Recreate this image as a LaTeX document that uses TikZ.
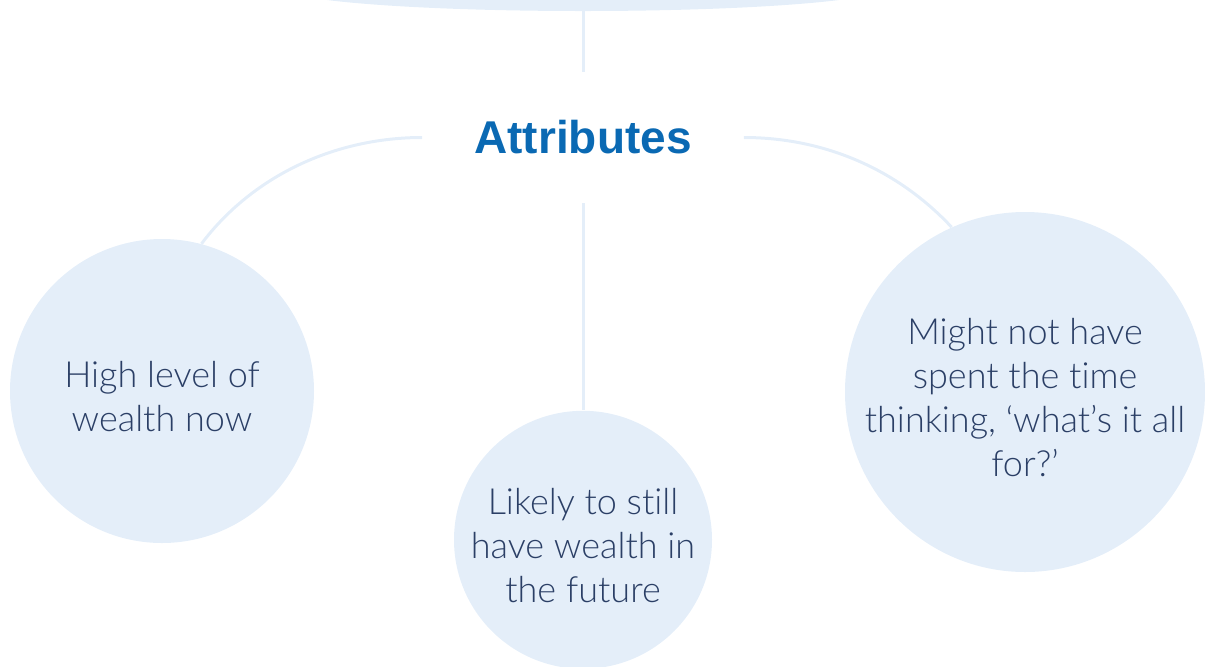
\documentclass[tikz,border=0pt]{standalone}
\usepackage{fontspec}
\setmainfont{Liberation Sans}
\newfontfamily\bodyfont{Lato}[UprightFont=* Light, Ligatures=NoCommon]
\usetikzlibrary{shapes.geometric,positioning}
\definecolor{bubblefill}{HTML}{E4EEF9}
\definecolor{navytext}{HTML}{2B3F66}
\definecolor{titleblue}{HTML}{0A69B3}
\newcommand{\toppad}{\rule{0pt}{19pt}}

\begin{document}
\begin{tikzpicture}
[x=0.5pt, y=-0.5pt,
 bubble/.style={circle, fill=bubblefill, inner sep=-6pt, align=center, text=navytext,
   font=\bodyfont\fontsize{18}{22}\selectfont},
 heading/.style={rectangle, inner sep=0pt, text=titleblue, font=\bfseries\fontsize{23}{28}\selectfont},
 link/.style={draw=bubblefill, line width=1.5pt}]
    \useasboundingbox (0,0) rectangle (1205,666);
    \clip (0,0) rectangle (1205,666);
    % parent shape, cut off at the top
    \node[ellipse, fill=bubblefill, inner sep=0pt, minimum width=300pt, minimum height=23pt](top) at (583,-12) {};
    \node[heading, minimum width=160.5pt, minimum height=65.5pt](attr) at (583,137.5) {Attributes};
    \draw[link] (top.south) -- (attr.north);
    % the three attributes
    \node[bubble, minimum size=152pt](wealthnow) at (162,391) {\toppad High level of\\wealth now};
    \node[bubble, minimum size=129pt](wealthlater) [below=103.5pt of attr] {\toppad Likely to still\\have wealth in\\the future};
    \node[bubble, minimum size=180pt](whatfor) at (1025,392) {\toppad Might not have\\spent the time\\thinking, ‘what’s it all\\for?’};
    \draw[link] (attr.west) to[out=180, in=53, looseness=0.9] (wealthnow.75);
    \draw[link] (attr.south) -- (wealthlater.north);
    \draw[link] (attr.east) to[out=0, in=133, looseness=0.9] (whatfor.114);
\end{tikzpicture}
\end{document}
